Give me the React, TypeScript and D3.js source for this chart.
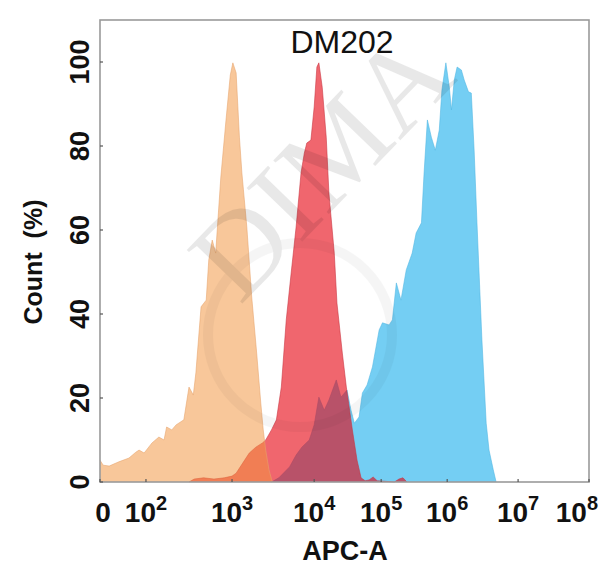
import React from "react";
import * as d3 from "d3";

// x values are in "decade" units (1 = the "0" tick, 2 = 10^2, ... 8 = 10^8); y = Count (%)
const controlSeries: [number, number][] = [
  [1.0, 5.2], [1.07, 4.0], [1.2, 3.8], [1.41, 4.8], [1.63, 5.7], [1.78, 7.1], [1.85, 7.6],
  [1.96, 6.9], [2.07, 9.3], [2.15, 10.7], [2.21, 10.0], [2.24, 13.1], [2.3, 12.4], [2.35, 13.6],
  [2.44, 14.8], [2.5, 22.6], [2.55, 20.7], [2.58, 26.0], [2.64, 41.7], [2.7, 43.3], [2.73, 52.9],
  [2.77, 57.6], [2.81, 54.5], [2.87, 72.6], [2.93, 86.2], [2.98, 96.9], [3.01, 99.8], [3.05, 97.4],
  [3.09, 82.1], [3.12, 73.6], [3.18, 60.7], [3.24, 44.0], [3.3, 30.7], [3.35, 18.8], [3.38, 12.4],
  [3.41, 7.6], [3.45, 2.9], [3.49, 0],
];

const lowSeries: [number, number][] = [
  [2.5, 0], [2.56, 0.7], [2.67, 1.0], [2.79, 0.7], [2.91, 1.0], [3.0, 1.4], [3.05, 2.1],
  [3.13, 4.5], [3.21, 6.9], [3.29, 8.3], [3.37, 9.3], [3.41, 10.0], [3.48, 12.4], [3.54, 14.8],
  [3.6, 22.6], [3.66, 38.6], [3.72, 49.8], [3.78, 60.7], [3.84, 73.6], [3.88, 78.3], [3.91, 80.7],
  [3.96, 81.4], [4.0, 89.3], [4.04, 98.8], [4.07, 99.8], [4.12, 94.0], [4.18, 82.1], [4.22, 68.8],
  [4.3, 54.5], [4.34, 42.6], [4.42, 30.7], [4.48, 22.6], [4.57, 12.4], [4.64, 5.2], [4.7, 1.0],
  [4.76, 0.3], [4.82, 0.5], [4.88, 1.2], [4.94, 0.3], [5.2, 0], [5.27, 0.7], [5.33, 1.0], [5.39, 0],
];

const highSeries: [number, number][] = [
  [3.48, 0], [3.57, 1.0], [3.7, 3.6], [3.78, 6.4], [3.85, 8.3], [3.94, 10.0], [4.0, 13.6],
  [4.07, 20.2], [4.15, 17.1], [4.22, 19.5], [4.33, 24.3], [4.4, 20.2], [4.49, 21.9], [4.55, 17.1],
  [4.6, 14.0], [4.67, 15.5], [4.72, 21.2], [4.79, 23.1], [4.87, 27.4], [4.97, 36.2], [5.02, 37.9],
  [5.12, 37.4], [5.17, 38.6], [5.23, 47.4], [5.3, 43.3], [5.38, 50.5], [5.47, 54.5], [5.53, 59.3],
  [5.61, 61.7], [5.65, 73.6], [5.7, 86.2], [5.76, 82.1], [5.82, 79.0], [5.88, 83.8], [5.92, 93.3],
  [5.98, 99.8], [6.03, 94.0], [6.06, 88.6], [6.1, 95.7], [6.14, 98.8], [6.2, 98.1], [6.24, 95.7],
  [6.3, 92.9], [6.34, 92.6], [6.38, 79.0], [6.42, 61.7], [6.49, 33.8], [6.55, 14.0], [6.59, 7.6],
  [6.65, 2.9], [6.69, 0],
];

const xTickValues = [1, 2, 3, 4, 5, 6, 7, 8];
const xTickExponents = ["", "2", "3", "4", "5", "6", "7", "8"];
const decadeFractions = [0, 0.094, 0.27, 0.438, 0.575, 0.71, 0.855, 1];
const yTickValues = [0, 20, 40, 60, 80, 100];

const W = 599;
const H = 572;
const M = { left: 100, right: 10, top: 20, bottom: 90 };

export default function App() {
  const plotW = W - M.left - M.right;
  const x = d3
    .scaleLinear()
    .domain(xTickValues)
    .range(decadeFractions.map((f) => M.left + f * plotW));
  const y = d3.scaleLinear().domain([0, 110]).range([H - M.bottom, M.top]);

  const area = d3
    .area<[number, number]>()
    .x((d) => x(d[0]))
    .y0(y(0))
    .y1((d) => y(d[1]))
    .curve(d3.curveLinear);

  // drawn in this order: blue underneath, red over it, peach on top
  const series = [
    { data: highSeries, fill: "#74CEF3", opacity: 1, stroke: "#4FB5E2" },
    { data: lowSeries, fill: "rgb(230,0,14)", opacity: 0.6, stroke: "#C8323F" },
    { data: controlSeries, fill: "rgb(241,148,61)", opacity: 0.52, stroke: "#E6A46C" },
  ];

  const font = "'Liberation Sans', Arial, Helvetica, sans-serif";
  const bottomY = y(0);

  return (
    <svg
      width={W}
      height={H}
      style={{ position: "absolute", left: 0, top: 0, background: "#fff" }}
      fontFamily={font}
    >
      <rect x={0} y={0} width={W} height={H} fill="#fff" />
      {series.map((s, i) => (
        <g key={i}>
          <path d={area(s.data) || ""} fill={s.fill} fillOpacity={s.opacity} stroke="none" />
          <path
            d={area.lineY1()(s.data) || ""}
            fill="none"
            stroke={s.stroke}
            strokeWidth={0.8}
            strokeOpacity={0.7}
          />
        </g>
      ))}

      {/* watermark */}
      <g opacity={0.085} pointerEvents="none">
        <circle cx={300} cy={335} r={92} fill="none" stroke="#000" strokeWidth={10} opacity={0.4} />
        <text
          transform="translate(240,306) rotate(-46)"
          fontFamily="'Liberation Serif', 'DejaVu Serif', serif"
          fontSize={118}
          fill="#000"
        >
          DIMA
        </text>
      </g>

      {/* frame */}
      <rect
        x={M.left}
        y={M.top}
        width={plotW}
        height={bottomY - M.top}
        fill="none"
        stroke="#9a9a9a"
        strokeWidth={1.6}
      />
      {xTickValues.map((t) => (
        <line key={"xt" + t} x1={x(t)} x2={x(t)} y1={bottomY} y2={bottomY - 3} stroke="#555" strokeWidth={1.2} />
      ))}
      {yTickValues.map((t) => (
        <line key={"yt" + t} x1={M.left} x2={M.left + 3} y1={y(t)} y2={y(t)} stroke="#555" strokeWidth={1.2} />
      ))}

      {/* x tick labels */}
      {xTickValues.map((t, i) => {
        const last = i === xTickValues.length - 1;
        const isZero = xTickExponents[i] === "";
        return (
          <text
            key={"xl" + t}
            x={last ? W - 1 : x(t) + (isZero ? 3 : 0)}
            y={522}
            textAnchor={last ? "end" : "middle"}
            fontSize={28}
            fontWeight="bold"
            fill="#111"
          >
            {isZero ? "0" : "10"}
            {!isZero && (
              <tspan fontSize={20} dy={-12}>
                {xTickExponents[i]}
              </tspan>
            )}
          </text>
        );
      })}

      {/* y tick labels */}
      {yTickValues.map((t) => (
        <text
          key={"yl" + t}
          transform={`translate(89,${y(t)}) rotate(-90)`}
          textAnchor="middle"
          fontSize={27}
          fontWeight="bold"
          fill="#111"
        >
          {t}
        </text>
      ))}

      <text
        transform={`translate(42,262) rotate(-90)`}
        textAnchor="middle"
        fontSize={25}
        fontWeight="bold"
        fill="#111"
        style={{ whiteSpace: "pre" }}
      >
        {"Count  (%)"}
      </text>

      <text x={345} y={560} textAnchor="middle" fontSize={27} fontWeight="bold" fill="#111">
        APC-A
      </text>

      <text x={342} y={53} textAnchor="middle" fontSize={32} fill="#111">
        DM202
      </text>
    </svg>
  );
}
